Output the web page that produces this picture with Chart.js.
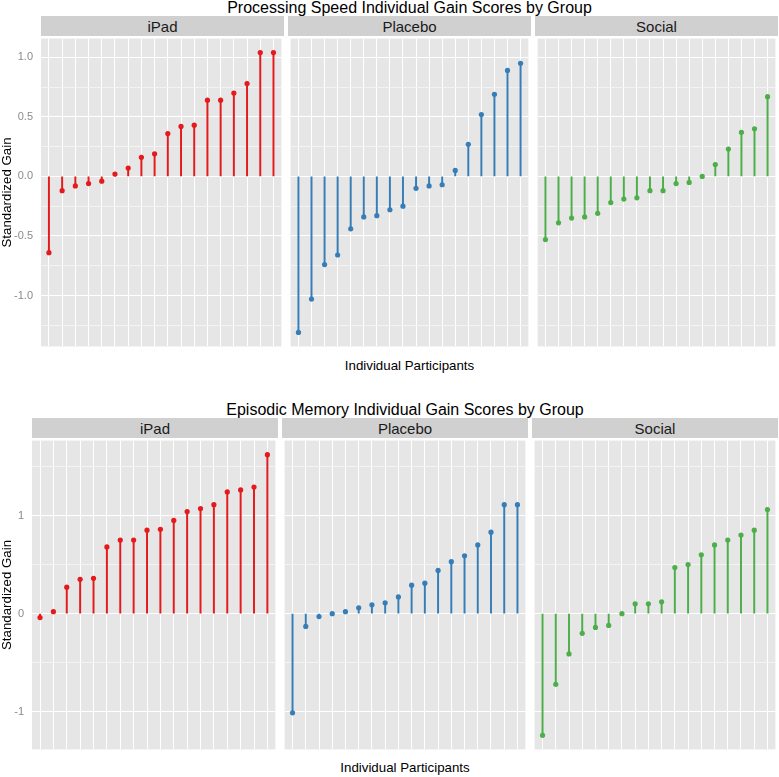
<!DOCTYPE html>
<html>
<head>
<meta charset="utf-8">
<script src="https://cdn.jsdelivr.net/npm/chart.js@4.4.1/dist/chart.umd.min.js"></script>
<style>
html,body{margin:0;padding:0;background:#fff;}
#wrap{position:relative;width:779px;height:777px;overflow:hidden;font-family:"Liberation Sans",Arial,sans-serif;}
.title{position:absolute;font-size:16px;line-height:16px;color:#000;text-align:center;white-space:nowrap;}
.strip{position:absolute;background:#D0D0D0;color:#1A1A1A;font-size:15px;display:flex;align-items:center;justify-content:center;}
.xtitle{position:absolute;font-size:13.3px;line-height:14px;color:#000;text-align:center;white-space:nowrap;}
canvas{position:absolute;}
</style>
</head>
<body>
<div id="wrap"></div>
<script>
// ---------- data ----------
const groups = ['iPad', 'Placebo', 'Social'];
const groupColors = ['#E41A1C', '#377EB8', '#4DAF4A'];
const participants = ['1','2','3','4','5','6','7','8','9','10','11','12','13','14','15','16','17','18'];

const speedIpad    = [-0.64, -0.12, -0.08, -0.06, -0.04, 0.02, 0.07, 0.16, 0.19, 0.36, 0.42, 0.43, 0.64, 0.64, 0.70, 0.78, 1.04, 1.04];
const speedPlacebo = [-1.31, -1.03, -0.74, -0.66, -0.44, -0.34, -0.33, -0.28, -0.25, -0.10, -0.08, -0.07, 0.05, 0.27, 0.52, 0.69, 0.89, 0.95];
const speedSocial  = [-0.53, -0.39, -0.35, -0.34, -0.31, -0.22, -0.19, -0.18, -0.12, -0.12, -0.06, -0.05, 0.00, 0.10, 0.23, 0.37, 0.40, 0.67];

const memoryIpad    = [-0.04, 0.02, 0.27, 0.35, 0.36, 0.68, 0.75, 0.75, 0.85, 0.86, 0.95, 1.04, 1.07, 1.11, 1.24, 1.26, 1.29, 1.62];
const memoryPlacebo = [-1.01, -0.13, -0.03, 0.00, 0.02, 0.06, 0.09, 0.11, 0.17, 0.29, 0.31, 0.44, 0.53, 0.59, 0.70, 0.83, 1.11, 1.11];
const memorySocial  = [-1.24, -0.72, -0.41, -0.20, -0.14, -0.12, 0.00, 0.10, 0.10, 0.12, 0.47, 0.50, 0.60, 0.70, 0.75, 0.80, 0.85, 1.06];

const speedTickValues  = [-1, -0.5, 0, 0.5, 1];
const speedTickLabels  = ['-1.0', '-0.5', '0.0', '0.5', '1.0'];
const speedMinorValues = [-1.25, -0.75, -0.25, 0.25, 0.75];
const memoryTickValues  = [-1, 0, 1];
const memoryTickLabels  = ['-1', '0', '1'];
const memoryMinorValues = [-0.5, 0.5, 1.5];

const speedTitle  = 'Processing Speed Individual Gain Scores by Group';
const memoryTitle = 'Episodic Memory Individual Gain Scores by Group';
const yTitle = 'Standardized Gain';
const xTitle = 'Individual Participants';

// ---------- layout ----------
const rows = [
  { title: speedTitle, series: [speedIpad, speedPlacebo, speedSocial],
    majors: speedTickValues, labels: speedTickLabels, minors: speedMinorValues,
    titleTop: 0, stripTop: 16, panelTop: 36, panelBottom: 349, xTitleTop: 359,
    panelLeft: 41, panelWidth: 243, gap: 4 },
  { title: memoryTitle, series: [memoryIpad, memoryPlacebo, memorySocial],
    majors: memoryTickValues, labels: memoryTickLabels, minors: memoryMinorValues,
    titleTop: 402, stripTop: 418, panelTop: 438, panelBottom: 752, xTitleTop: 761,
    panelLeft: 32, panelWidth: 246, gap: 4 }
];

const wrap = document.getElementById('wrap');
Chart.defaults.font.family = '"Liberation Sans", Arial, sans-serif';

const bgPlugin = {
  id: 'panelBg',
  beforeDraw(chart) {
    const a = chart.chartArea, ctx = chart.ctx;
    ctx.save();
    ctx.fillStyle = '#E6E6E6';
    ctx.fillRect(a.left, a.top, a.right - a.left, a.bottom - a.top);
    ctx.restore();
  }
};

function addDiv(cls, text, left, top, width, height) {
  const d = document.createElement('div');
  d.className = cls;
  d.textContent = text;
  d.style.left = left + 'px';
  d.style.top = top + 'px';
  if (width != null) d.style.width = width + 'px';
  if (height != null) d.style.height = height + 'px';
  wrap.appendChild(d);
  return d;
}

function zeroPad(s) {
  s.paddingTop = 0; s.paddingBottom = 0; s.paddingLeft = 0; s.paddingRight = 0;
}

rows.forEach(row => {
  const all = row.series.flat();
  const dmin = Math.min(...all), dmax = Math.max(...all);
  const pad = (dmax - dmin) * 0.05;
  const ymin = dmin - pad, ymax = dmax + pad;
  const spanW = row.panelWidth * 3 + row.gap * 2;

  addDiv('title', row.title, row.panelLeft, row.titleTop, spanW);
  addDiv('xtitle', xTitle, row.panelLeft, row.xTitleTop, spanW);

  const tickVals = row.minors.concat(row.majors).filter(v => v >= ymin && v <= ymax).sort((a, b) => a - b);

  groups.forEach((g, gi) => {
    const px = row.panelLeft + gi * (row.panelWidth + row.gap);
    addDiv('strip', g, px, row.stripTop, row.panelWidth, row.panelTop - row.stripTop);

    const first = gi === 0;
    const cLeft = first ? 0 : px;
    const cWidth = first ? px + row.panelWidth : row.panelWidth;
    const cHeight = row.panelBottom - row.panelTop;
    const canvas = document.createElement('canvas');
    canvas.width = cWidth; canvas.height = cHeight;
    canvas.style.left = cLeft + 'px';
    canvas.style.top = row.panelTop + 'px';
    canvas.style.width = cWidth + 'px';
    canvas.style.height = cHeight + 'px';
    wrap.appendChild(canvas);

    const vals = row.series[gi];
    const pts = vals.map((v, i) => ({ x: i + 1, y: v }));
    const color = groupColors[gi];

    new Chart(canvas, {
      type: 'bar',
      data: {
        datasets: [
          { type: 'scatter', data: pts, backgroundColor: color, borderColor: color,
            pointRadius: 2.6, pointBorderWidth: 0, pointHoverRadius: 2.6, order: 0 },
          { type: 'bar', data: pts, backgroundColor: color, borderWidth: 0,
            barThickness: 1.3, order: 1 }
        ]
      },
      options: {
        responsive: false,
        animation: false,
        events: [],
        devicePixelRatio: 1,
        layout: { padding: 0 },
        plugins: { legend: { display: false }, tooltip: { enabled: false }, title: { display: false } },
        scales: {
          x: {
            type: 'linear', min: 0.4, max: participants.length + 0.6, offset: false,
            grid: { color: '#FFFFFF', lineWidth: 1, drawTicks: false, offset: false },
            border: { display: false },
            ticks: { display: false },
            afterBuildTicks: s => { s.ticks = participants.map((p, i) => ({ value: i + 1 })); },
            afterFit: s => { s.height = 0; zeroPad(s); }
          },
          y: {
            type: 'linear', min: ymin, max: ymax,
            grid: {
              drawTicks: false,
              color: ctx => (ctx.tick && row.majors.includes(ctx.tick.value)) ? '#FFFFFF' : '#F3F3F3',
              lineWidth: 1
            },
            border: { display: false },
            ticks: {
              display: first, color: '#8A8A8A', padding: 8,
              font: { size: 11 },
              callback: v => { const k = row.majors.indexOf(v); return k >= 0 ? row.labels[k] : ''; }
            },
            title: {
              display: first, text: yTitle, color: '#000',
              font: { size: 13.3, lineHeight: 1 }, padding: { top: 0.5, bottom: 0 }
            },
            afterBuildTicks: s => { s.ticks = tickVals.map(v => ({ value: v })); },
            afterFit: s => { s.width = first ? px : 0; zeroPad(s); }
          }
        }
      },
      plugins: [bgPlugin]
    });
  });
});
</script>
</body>
</html>
